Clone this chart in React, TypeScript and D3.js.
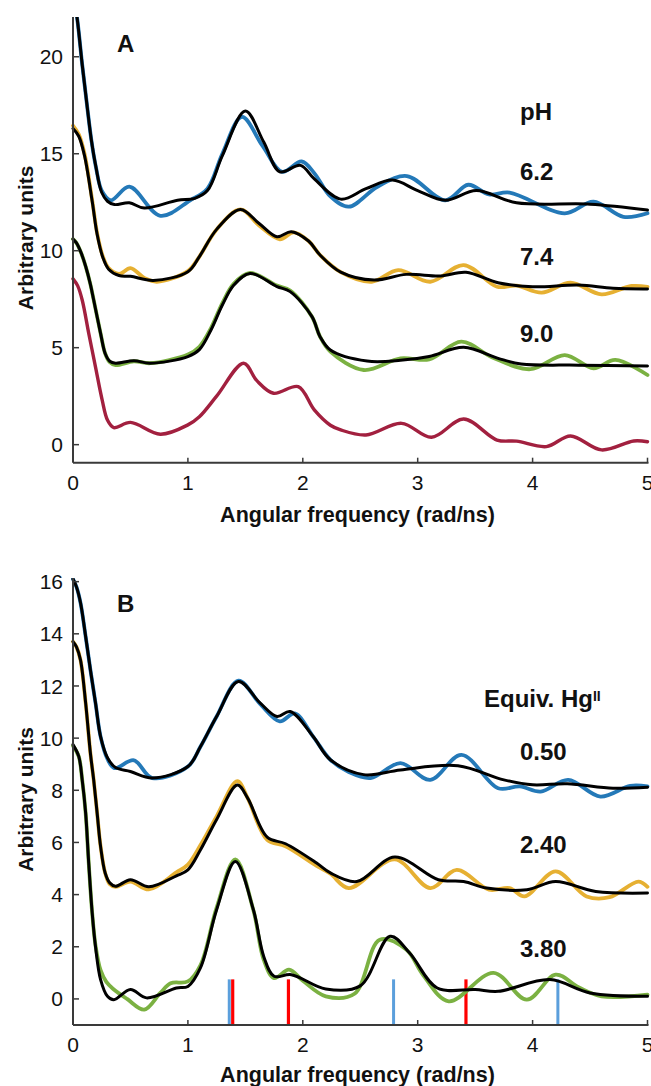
import React from 'react';
import * as d3 from 'd3';

type P = [number, number];

// ---------- tick values ----------
const xTicks = [0, 1, 2, 3, 4, 5];
const yTicksA = [0, 5, 10, 15, 20];
const yTicksB = [0, 2, 4, 6, 8, 10, 12, 14, 16];

// ---------- labels ----------
const xTitle = 'Angular frequency (rad/ns)';
const yTitle = 'Arbitrary units';
const legendTitleA = 'pH';
const legendA = ['6.2', '7.4', '9.0'];
const legendTitleB = 'Equiv. Hg';
const legendB = ['0.50', '2.40', '3.80'];

// ---------- Panel A data ----------
const a62Raw: P[] = [
  [0, 23.5], [0.04, 21.8], [0.08, 19.6], [0.12, 17.6], [0.16, 15.7], [0.2, 14.3], [0.25, 13.1],
  [0.33, 12.6], [0.49, 13.3], [0.76, 11.8], [1.02, 12.6], [1.17, 13.2], [1.3, 15.0], [1.47, 16.9],
  [1.65, 15.4], [1.82, 14.07], [1.99, 14.6], [2.1, 14.0], [2.24, 12.8], [2.4, 12.27], [2.65, 13.3],
  [2.906, 13.85], [3.24, 12.6], [3.44, 13.4], [3.62, 12.9], [3.8, 13.0], [4.28, 11.93], [4.53, 12.53],
  [4.79, 11.75], [5.0, 11.93],
];
const a62Fit: P[] = [
  [0, 23.5], [0.04, 21.8], [0.08, 19.6], [0.12, 17.6], [0.16, 15.7], [0.2, 14.3], [0.25, 13.0],
  [0.3, 12.55], [0.36, 12.38], [0.49, 12.47], [0.62, 12.2], [0.91, 12.6], [1.06, 12.7], [1.17, 13.1],
  [1.3, 14.9], [1.5, 17.2], [1.66, 15.6], [1.8, 14.07], [1.98, 14.4], [2.1, 13.7], [2.33, 12.66],
  [2.55, 13.2], [2.78, 13.64], [3.0, 13.1], [3.24, 12.6], [3.51, 13.1], [3.86, 12.47], [4.5, 12.4],
  [5.0, 12.1],
];
const a74Raw: P[] = [
  [0, 16.45], [0.05, 16.0], [0.1, 15.0], [0.167, 12.6], [0.21, 10.9], [0.26, 9.7], [0.31, 9.1],
  [0.4, 8.8], [0.5, 9.1], [0.62, 8.6], [0.73, 8.4], [1.0, 8.95], [1.1, 9.7], [1.25, 11.1],
  [1.457, 12.13], [1.62, 11.3], [1.8, 10.59], [1.92, 10.95], [2.05, 10.5], [2.15, 9.78], [2.33, 8.9],
  [2.6, 8.4], [2.83, 9.0], [3.11, 8.4], [3.4, 9.26], [3.69, 8.14], [3.86, 8.2], [4.08, 7.84],
  [4.33, 8.35], [4.6, 7.75], [4.86, 8.18], [5.0, 8.14],
];
const a74Fit: P[] = [
  [0, 16.3], [0.05, 15.9], [0.1, 14.9], [0.167, 12.55], [0.21, 10.85], [0.26, 9.65], [0.31, 9.05],
  [0.4, 8.72], [0.5, 8.68], [0.7, 8.47], [1.0, 8.92], [1.1, 9.7], [1.25, 11.1], [1.457, 12.13],
  [1.62, 11.4], [1.775, 10.72], [1.9, 10.98], [2.05, 10.5], [2.15, 9.78], [2.33, 8.9], [2.62, 8.49],
  [2.9, 8.78], [3.2, 8.7], [3.42, 8.89], [3.7, 8.35], [4.0, 8.14], [4.4, 8.23], [4.7, 8.06],
  [5.0, 8.03],
];
const a90Raw: P[] = [
  [0, 10.6], [0.03, 10.4], [0.07, 9.9], [0.11, 9.2], [0.15, 8.3], [0.18, 7.46], [0.24, 5.74],
  [0.28, 4.7], [0.32, 4.25], [0.37, 4.1], [0.53, 4.3], [0.67, 4.2], [1.0, 4.65], [1.1, 5.05],
  [1.2, 6.0], [1.3, 7.3], [1.4, 8.3], [1.54, 8.85], [1.775, 8.2], [1.89, 7.95], [2.08, 6.6],
  [2.15, 5.57], [2.24, 4.8], [2.53, 3.85], [2.85, 4.45], [3.1, 4.4], [3.38, 5.31], [3.65, 4.5],
  [3.98, 3.89], [4.28, 4.62], [4.53, 3.94], [4.72, 4.37], [5.0, 3.59],
];
const a90Fit: P[] = [
  [0, 10.6], [0.03, 10.4], [0.07, 9.9], [0.11, 9.2], [0.15, 8.3], [0.18, 7.46], [0.24, 5.74],
  [0.28, 4.7], [0.32, 4.3], [0.37, 4.2], [0.53, 4.33], [0.67, 4.2], [1.0, 4.54], [1.1, 4.9],
  [1.2, 5.9], [1.3, 7.2], [1.4, 8.23], [1.54, 8.83], [1.775, 8.15], [1.89, 7.89], [2.08, 6.6],
  [2.15, 5.57], [2.24, 4.88], [2.56, 4.31], [2.85, 4.35], [3.1, 4.55], [3.4, 5.02], [3.7, 4.45],
  [3.9, 4.16], [4.4, 4.1], [5.0, 4.06],
];
const aCrimson: P[] = [
  [0, 8.55], [0.04, 8.2], [0.08, 7.46], [0.137, 5.74], [0.196, 4.0], [0.254, 2.3], [0.3, 1.27],
  [0.355, 0.88], [0.5, 1.15], [0.76, 0.54], [1.0, 1.02], [1.1, 1.44], [1.25, 2.5], [1.485, 4.2],
  [1.6, 3.3], [1.745, 2.65], [1.96, 2.99], [2.1, 1.79], [2.24, 1.0], [2.33, 0.76], [2.55, 0.5],
  [2.86, 1.1], [3.12, 0.38], [3.4, 1.32], [3.69, 0.24], [3.86, 0.18], [4.12, -0.1], [4.33, 0.45],
  [4.6, -0.27], [4.88, 0.19], [5.0, 0.15],
];

// ---------- Panel B data ----------
const b050Raw: P[] = [
  [0, 16.1], [0.03, 15.8], [0.065, 15.2], [0.11, 13.9], [0.152, 12.6], [0.196, 11.35], [0.24, 10.06],
  [0.3, 9.2], [0.36, 8.85], [0.53, 9.15], [0.69, 8.47], [1.0, 8.91], [1.11, 9.68], [1.25, 10.83],
  [1.44, 12.2], [1.63, 11.3], [1.8, 10.64], [1.93, 10.95], [2.09, 10.06], [2.24, 9.17], [2.4, 8.7],
  [2.59, 8.47], [2.85, 9.04], [3.11, 8.4], [3.38, 9.36], [3.7, 8.08], [3.89, 8.15], [4.07, 7.95],
  [4.31, 8.4], [4.59, 7.76], [4.85, 8.17], [5.0, 8.15],
];
const b050Fit: P[] = [
  [0, 16.1], [0.03, 15.8], [0.065, 15.2], [0.11, 13.9], [0.152, 12.6], [0.196, 11.35], [0.24, 10.06],
  [0.3, 9.25], [0.37, 8.87], [0.5, 8.72], [0.69, 8.47], [1.0, 8.91], [1.11, 9.68], [1.25, 10.83],
  [1.44, 12.17], [1.63, 11.34], [1.775, 10.83], [1.89, 11.02], [2.09, 10.06], [2.24, 9.17],
  [2.53, 8.6], [2.85, 8.78], [3.35, 8.94], [3.75, 8.4], [4.0, 8.21], [4.3, 8.25], [4.7, 8.08],
  [5.0, 8.12],
];
const b240Raw: P[] = [
  [0, 13.7], [0.03, 13.5], [0.065, 13.0], [0.11, 11.35], [0.152, 9.4], [0.18, 8.4], [0.21, 7.13],
  [0.24, 5.85], [0.28, 4.83], [0.32, 4.4], [0.37, 4.3], [0.5, 4.5], [0.66, 4.2], [0.9, 4.85],
  [1.0, 5.15], [1.11, 5.9], [1.25, 7.0], [1.43, 8.35], [1.52, 7.7], [1.69, 6.1], [1.85, 5.85],
  [2.12, 5.1], [2.24, 4.8], [2.4, 4.25], [2.8, 5.35], [3.11, 4.25], [3.34, 4.95], [3.62, 4.19],
  [3.8, 4.25], [3.93, 3.93], [4.2, 4.89], [4.47, 3.93], [4.67, 3.9], [4.92, 4.5], [5.0, 4.3],
];
const b240Fit: P[] = [
  [0, 13.7], [0.03, 13.5], [0.065, 13.0], [0.11, 11.35], [0.152, 9.4], [0.18, 8.4], [0.21, 7.13],
  [0.24, 5.85], [0.28, 4.83], [0.32, 4.45], [0.37, 4.32], [0.5, 4.57], [0.66, 4.3], [0.9, 4.72],
  [1.0, 4.95], [1.11, 5.72], [1.25, 6.88], [1.43, 8.2], [1.52, 7.7], [1.69, 6.2], [1.85, 5.95],
  [2.12, 5.21], [2.24, 4.83], [2.47, 4.5], [2.8, 5.44], [3.18, 4.57], [3.4, 4.5], [3.6, 4.25],
  [3.95, 4.19], [4.2, 4.5], [4.55, 4.12], [5.0, 4.06],
];
const b380Raw: P[] = [
  [0, 9.7], [0.05, 9.3], [0.08, 8.4], [0.11, 7.13], [0.137, 5.2], [0.167, 3.3], [0.196, 2.05],
  [0.24, 1.1], [0.29, 0.65], [0.35, 0.38], [0.47, 0.0], [0.62, -0.41], [0.76, 0.23], [0.85, 0.6],
  [1.0, 0.67], [1.11, 1.3], [1.25, 3.5], [1.413, 5.35], [1.57, 3.4], [1.66, 1.5], [1.75, 0.8],
  [1.88, 1.12], [2.0, 0.7], [2.2, 0.1], [2.45, 0.2], [2.67, 2.27], [2.9, 1.89], [3.05, 0.9],
  [3.27, -0.09], [3.66, 1.0], [3.95, -0.03], [4.2, 0.93], [4.4, 0.45], [4.6, 0.1], [5.0, 0.16],
];
const b380Fit: P[] = [
  [0, 9.75], [0.05, 9.3], [0.08, 8.4], [0.11, 7.13], [0.137, 5.2], [0.167, 3.3], [0.196, 2.0],
  [0.24, 0.74], [0.3, 0.1], [0.355, -0.03], [0.5, 0.36], [0.64, 0.04], [0.9, 0.42], [1.0, 0.48],
  [1.11, 1.2], [1.25, 3.42], [1.413, 5.27], [1.57, 3.42], [1.66, 1.63], [1.75, 0.87], [1.9, 0.93],
  [2.2, 0.38], [2.5, 0.5], [2.76, 2.4], [2.93, 1.76], [3.17, 0.42], [3.5, 0.36], [3.7, 0.29],
  [4.15, 0.74], [4.5, 0.23], [5.0, 0.1],
];
const sticksBlue = [1.36, 2.79, 4.22];
const sticksRed = [1.39, 1.875, 3.42];
const stickTop = 0.75;

// ---------- styles ----------
const C_BLUE = '#2479b8';
const C_YELLOW = '#e6b032';
const C_GREEN = '#7bb142';
const C_CRIMSON = '#a2203f';
const C_FIT = '#000000';
const C_STICK_BLUE = '#5b9fdc';
const C_STICK_RED = '#ff0000';
const AXIS = '#3a3a3a';
const FONT = 'Liberation Sans, Arial, Helvetica, sans-serif';

const W = 651;
const H = 1086;
const X0 = 73;
const X1 = 647.5;

const xScale = d3.scaleLinear().domain([0, 5]).range([X0, X1]);

interface SeriesDef { data: P[]; color: string; width: number }

interface PanelProps {
  id: string;
  top: number;
  bottom: number;
  yDomain: [number, number];
  yTicks: number[];
  series: SeriesDef[];
  letter: string;
  letterY: number;
  tickLabelY: number;
  titleY: number;
  sticks?: boolean;
}

function Panel(p: PanelProps) {
  const y = d3.scaleLinear().domain(p.yDomain).range([p.bottom, p.top]);
  const line = d3
    .line<P>()
    .x((d) => xScale(d[0]))
    .y((d) => y(d[1]))
    .curve(d3.curveCatmullRom.alpha(0.5));
  const clipId = `clip-${p.id}`;
  const midY = (p.top + p.bottom) / 2;
  return (
    <g>
      <defs>
        <clipPath id={clipId}>
          <rect x={X0 - 4} y={p.top} width={X1 - X0 + 10} height={p.bottom - p.top} />
        </clipPath>
      </defs>
      {p.sticks && (
        <g>
          {sticksBlue.map((v, i) => (
            <line key={`sb${i}`} x1={xScale(v)} x2={xScale(v)} y1={y(stickTop)} y2={p.bottom}
              stroke={C_STICK_BLUE} strokeWidth={3} />
          ))}
          {sticksRed.map((v, i) => (
            <line key={`sr${i}`} x1={xScale(v)} x2={xScale(v)} y1={y(stickTop)} y2={p.bottom}
              stroke={C_STICK_RED} strokeWidth={3.2} />
          ))}
        </g>
      )}
      <g clipPath={`url(#${clipId})`}>
        {p.series.map((s, i) => (
          <path key={i} d={line(s.data) || ''} fill="none" stroke={s.color} strokeWidth={s.width}
            strokeLinejoin="round" strokeLinecap="round" />
        ))}
      </g>
      <line x1={X0} x2={X0} y1={p.top} y2={p.bottom} stroke={AXIS} strokeWidth={2} />
      <line x1={X0} x2={X1 + 1} y1={p.bottom} y2={p.bottom} stroke={AXIS} strokeWidth={2} />
      {p.yTicks.map((t) => (
        <g key={`y${t}`}>
          <line x1={X0} x2={X0 + 6} y1={y(t)} y2={y(t)} stroke={AXIS} strokeWidth={1.5} />
          <text x={63} y={y(t)} dy="0.36em" textAnchor="end" fontSize={21} fontFamily={FONT} fill="#111">
            {t}
          </text>
        </g>
      ))}
      {xTicks.map((t) => (
        <g key={`x${t}`}>
          {t > 0 && (
            <line x1={xScale(t)} x2={xScale(t)} y1={p.bottom} y2={p.bottom - 5} stroke={AXIS} strokeWidth={1.5} />
          )}
          <text x={xScale(t)} y={p.tickLabelY} textAnchor="middle" fontSize={21} fontFamily={FONT} fill="#111">
            {t}
          </text>
        </g>
      ))}
      <text x={357.5} y={p.titleY} textAnchor="middle" fontSize={21.5} fontWeight="bold" fontFamily={FONT} fill="#111">
        {xTitle}
      </text>
      <text transform={`translate(33,${midY - 2}) rotate(-90)`} textAnchor="middle" fontSize={21}
        fontWeight="bold" fontFamily={FONT} fill="#111">
        {yTitle}
      </text>
      <text x={117} y={p.letterY} fontSize={24} fontWeight="bold" fontFamily={FONT} fill="#111">
        {p.letter}
      </text>
    </g>
  );
}

export default function App() {
  const seriesA: SeriesDef[] = [
    { data: aCrimson, color: C_CRIMSON, width: 3.4 },
    { data: a90Raw, color: C_GREEN, width: 3.8 },
    { data: a74Raw, color: C_YELLOW, width: 3.8 },
    { data: a62Raw, color: C_BLUE, width: 3.8 },
    { data: a90Fit, color: C_FIT, width: 3 },
    { data: a74Fit, color: C_FIT, width: 3 },
    { data: a62Fit, color: C_FIT, width: 3 },
  ];
  const seriesB: SeriesDef[] = [
    { data: b380Raw, color: C_GREEN, width: 3.8 },
    { data: b240Raw, color: C_YELLOW, width: 3.8 },
    { data: b050Raw, color: C_BLUE, width: 3.8 },
    { data: b380Fit, color: C_FIT, width: 3 },
    { data: b240Fit, color: C_FIT, width: 3 },
    { data: b050Fit, color: C_FIT, width: 3 },
  ];
  const lbl = { fontSize: 24, fontWeight: 'bold' as const, fontFamily: FONT, fill: '#111' };
  return (
    <svg width={W} height={H} viewBox={`0 0 ${W} ${H}`}
      style={{ position: 'absolute', left: 0, top: 0, display: 'block', background: '#fff' }}>
      <rect x={0} y={0} width={W} height={H} fill="#fff" />
      <Panel id="A" top={17} bottom={462.7} yDomain={[-0.93, 22.05]} yTicks={yTicksA}
        series={seriesA} letter="A" letterY={52} tickLabelY={490} titleY={521.5} />
      <Panel id="B" top={578} bottom={1025} yDomain={[-1, 16.14]} yTicks={yTicksB}
        series={seriesB} letter="B" letterY={611.5} tickLabelY={1051.5} titleY={1082} sticks />
      <text x={520} y={120} {...lbl}>{legendTitleA}</text>
      <text x={520} y={180} {...lbl}>{legendA[0]}</text>
      <text x={520} y={265} {...lbl}>{legendA[1]}</text>
      <text x={520} y={341.7} {...lbl}>{legendA[2]}</text>
      <text x={484} y={707} {...lbl}>
        {legendTitleB}
        <tspan fontSize={14} dy={-6}>II</tspan>
      </text>
      <text x={520} y={760} {...lbl}>{legendB[0]}</text>
      <text x={520} y={853.3} {...lbl}>{legendB[1]}</text>
      <text x={520} y={956.7} {...lbl}>{legendB[2]}</text>
    </svg>
  );
}
